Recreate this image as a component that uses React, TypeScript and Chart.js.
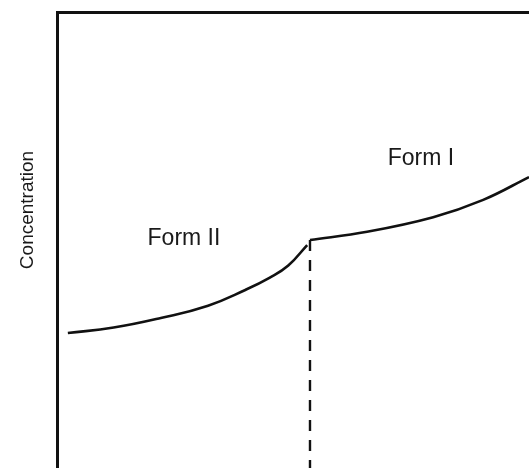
import React, { useEffect, useRef } from "react";
import { Chart, registerables } from "chart.js";

Chart.register(...registerables);

// Form II branch (x = temperature-like axis, y = concentration), arbitrary units 0..10
const formIIx = [0.23, 1.2, 2.2, 3.2, 4.0, 4.5, 4.9, 5.3];
const formIIy = [2.96, 3.08, 3.29, 3.56, 3.91, 4.17, 4.44, 4.89];

// Form I branch
const formIx = [5.36, 6.57, 7.97, 9.03, 10.0];
const formIy = [5.0, 5.18, 5.5, 5.88, 6.38];

// Transition (dashed vertical)
const transitionX = [5.36, 5.36];
const transitionY = [5.0, 0];

const axisTitle = "Concentration";
const formLabels = ["Form II", "Form I"];
const formLabelX = [2.69, 7.71];
const formLabelY = [4.9, 6.65];

const xRange = [0, 10];
const yRange = [0, 10];

const pts = (xs: number[], ys: number[]) => xs.map((x, i) => ({ x, y: ys[i] }));

export default function App() {
  const ref = useRef<HTMLCanvasElement | null>(null);

  useEffect(() => {
    if (!ref.current) return;
    const textPlugin = {
      id: "texts",
      afterDraw(chart: any) {
        const ctx = chart.ctx;
        const xs = chart.scales.x;
        const ys = chart.scales.y;
        ctx.save();
        ctx.fillStyle = "#1a1a1a";
        ctx.font = "23px 'Liberation Sans', Arial, sans-serif";
        ctx.textAlign = "center";
        ctx.textBaseline = "alphabetic";
        formLabels.forEach((t, i) => {
          ctx.fillText(t, xs.getPixelForValue(formLabelX[i]), ys.getPixelForValue(formLabelY[i]));
        });
        ctx.translate(33, 210);
        ctx.rotate(-Math.PI / 2);
        ctx.font = "19px 'Liberation Sans', Arial, sans-serif";
        ctx.fillText(axisTitle, 0, 0);
        ctx.restore();
      },
    };

    const chart = new Chart(ref.current, {
      type: "line",
      data: {
        datasets: [
          {
            label: "Form II",
            data: pts(formIIx, formIIy),
            borderColor: "#111",
            borderWidth: 2.6,
            pointRadius: 0,
            tension: 0.45,
            fill: false,
          },
          {
            label: "Form I",
            data: pts(formIx, formIy),
            borderColor: "#111",
            borderWidth: 2.6,
            pointRadius: 0,
            tension: 0.4,
            fill: false,
          },
          {
            label: "Transition",
            data: pts(transitionX, transitionY),
            borderColor: "#111",
            borderWidth: 2.4,
            borderDash: [11, 9],
            pointRadius: 0,
            fill: false,
          },
        ],
      },
      options: {
        responsive: false,
        animation: false,
        layout: { padding: { left: 57, top: 12, right: 0, bottom: 0 } },
        plugins: { legend: { display: false }, tooltip: { enabled: false }, title: { display: false } },
        scales: {
          x: {
            type: "linear",
            position: "top",
            min: xRange[0],
            max: xRange[1],
            ticks: { display: false },
            grid: { display: false, drawTicks: false, tickLength: 0 },
            border: { display: true, width: 3, color: "#111" },
          },
          y: {
            type: "linear",
            position: "left",
            min: yRange[0],
            max: yRange[1],
            ticks: { display: false },
            grid: { display: false, drawTicks: false, tickLength: 0 },
            border: { display: true, width: 3, color: "#111" },
          },
        },
      },
      plugins: [textPlugin],
    } as any);
    return () => chart.destroy();
  }, []);

  return (
    <div style={{ position: "fixed", left: 0, top: 0, width: 529, height: 468, background: "#fff" }}>
      <canvas ref={ref} width={529} height={468} style={{ display: "block" }} />
    </div>
  );
}
